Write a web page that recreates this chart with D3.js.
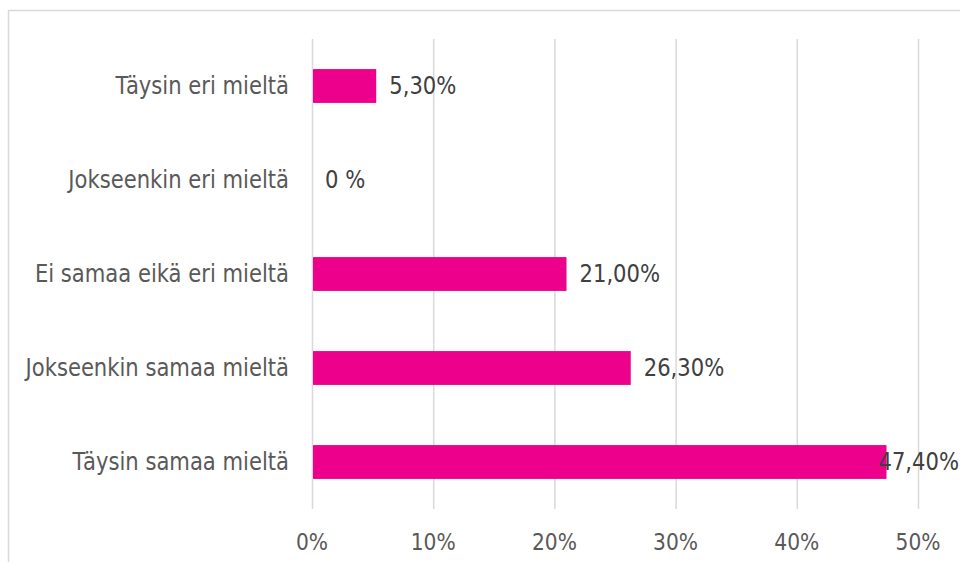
<!DOCTYPE html>
<html>
<head>
<meta charset="utf-8">
<script src="https://cdn.jsdelivr.net/npm/d3@7"></script>
<style>
  html, body { margin: 0; padding: 0; background: #fff; }
  svg { display: block; }
  text { font-family: "DejaVu Sans", Verdana, sans-serif; }
</style>
</head>
<body>
<svg id="chart" width="960" height="562"></svg>
<script>
// Survey answers, top to bottom
const categories = [
  "Täysin eri mieltä",
  "Jokseenkin eri mieltä",
  "Ei samaa eikä eri mieltä",
  "Jokseenkin samaa mieltä",
  "Täysin samaa mieltä"
];
const values = [5.3, 0, 21.0, 26.3, 47.4];
const valueLabels = ["5,30%", "0 %", "21,00%", "26,30%", "47,40%"];
const tickValues = [0, 10, 20, 30, 40, 50];
const tickLabels = ["0%", "10%", "20%", "30%", "40%", "50%"];

const W = 960, H = 562;
const margin = { top: 39, right: 42, bottom: 53, left: 312 };
const FONT = 24, SQUEEZE = 0.88;   // narrow, tall lettering
const svg = d3.select("#chart");

// places a text at (x, y) with horizontally condensed glyphs
function place(sel, fx, fy) {
  sel.attr("transform", (d, i) => `translate(${fx(d, i)},${fy(d, i)}) scale(${SQUEEZE},1)`);
}

// chart frame (only left and top edges visible)
svg.append("path")
  .attr("d", `M8.5,${H} V10.5 H${W}`)
  .attr("fill", "none")
  .attr("stroke", "#d9d9d9")
  .attr("stroke-width", 1.5);

const x = d3.scaleLinear().domain([0, 50]).range([margin.left, W - margin.right]);
const y = d3.scaleBand().domain(categories)
  .range([margin.top, H - margin.bottom])
  .paddingInner(0.64).paddingOuter(0.32);

// vertical gridlines
svg.append("g").selectAll("line").data(tickValues).join("line")
  .attr("x1", d => x(d) + 0.5).attr("x2", d => x(d) + 0.5)
  .attr("y1", margin.top).attr("y2", H - margin.bottom)
  .attr("stroke", "#d9d9d9").attr("stroke-width", 1.5);

// bars
svg.append("g").selectAll("rect").data(values).join("rect")
  .attr("x", x(0) + 1)
  .attr("y", (d, i) => y(categories[i]))
  .attr("width", d => Math.max(0, x(d) - x(0) - 1))
  .attr("height", y.bandwidth())
  .attr("fill", "#ec008c");

// category labels
svg.append("g").selectAll("text").data(categories).join("text")
  .attr("dy", "0.35em")
  .attr("text-anchor", "end")
  .attr("fill", "#595959")
  .attr("font-size", FONT)
  .text(d => d)
  .call(place, () => x(0) - 23, d => y(d) + y.bandwidth() / 2);

// value labels, kept inside the frame at the right edge
const vl = svg.append("g").selectAll("text").data(values).join("text")
  .attr("dy", "0.35em")
  .attr("fill", "#404040")
  .attr("font-size", FONT)
  .text((d, i) => valueLabels[i]);
vl.each(function(d, i) {
  const w = this.getComputedTextLength() * SQUEEZE;
  const pos = Math.min(x(d) + 13, W - 1 - w);
  const cy = y(categories[i]) + y.bandwidth() / 2;
  d3.select(this).attr("transform", `translate(${pos},${cy}) scale(${SQUEEZE},1)`);
});

// x axis tick labels
svg.append("g").selectAll("text").data(tickValues).join("text")
  .attr("dy", "0.35em")
  .attr("text-anchor", "middle")
  .attr("fill", "#595959")
  .attr("font-size", 23)
  .text((d, i) => tickLabels[i])
  .call(place, d => x(d), () => H - 20);
</script>
</body>
</html>
